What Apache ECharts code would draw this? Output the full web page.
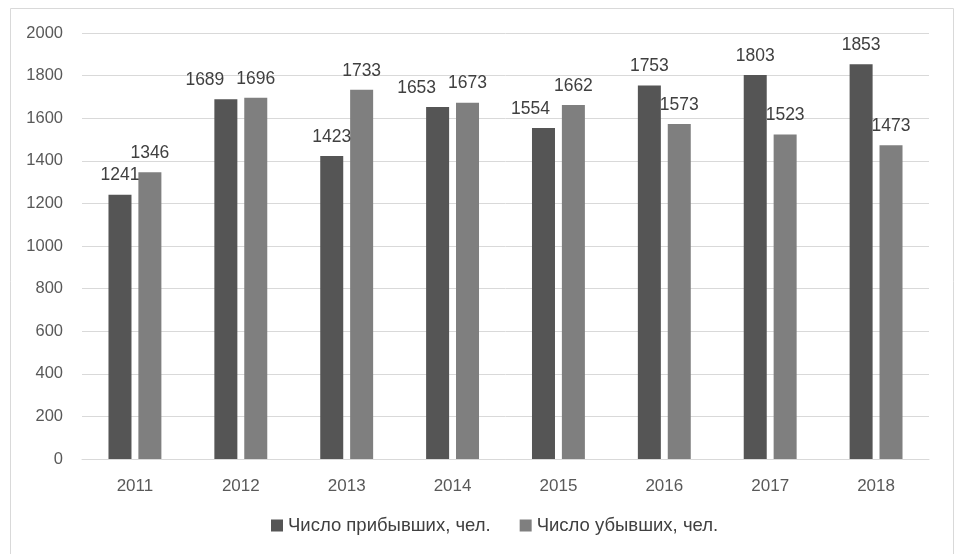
<!DOCTYPE html>
<html><head><meta charset="utf-8">
<script src="https://cdn.jsdelivr.net/npm/echarts@6/dist/echarts.min.js"></script>
<style>html,body{margin:0;padding:0;background:#fff}#c{width:963px;height:554px}</style>
</head><body><div id="c"></div>
<script>
const categories = ['2011','2012','2013','2014','2015','2016','2017','2018'];
const arrived = [1241,1689,1423,1653,1554,1753,1803,1853];
const departed = [1346,1696,1733,1673,1662,1573,1523,1473];
const seriesNames = ['Число прибывших, чел.','Число убывших, чел.'];
const yTicks = {min:0,max:2000,interval:200};

// horizontal label nudges (as in the reference, to avoid overlaps)
const arrivedLabelShift = [0,-21,0,-21,-13,0,0,0];

const font = '"Liberation Sans", Arial, sans-serif';
const chart = echarts.init(document.getElementById('c'));
const lbl = {show:true, position:'top', distance:10, color:'#404040', fontSize:17.5, fontFamily:font};
chart.setOption({
  animation:false,
  graphic:[{type:'rect', shape:{x:10.5,y:8.5,width:943,height:600}, style:{fill:'none',stroke:'#d9d9d9',lineWidth:1}}],
  grid:{left:82,right:34,top:33,bottom:95},
  legend:{bottom:14,left:266,itemWidth:12,itemHeight:12,itemGap:29,icon:'rect',
    textStyle:{color:'#404040',fontSize:18.5,fontFamily:font},data:seriesNames},
  xAxis:{type:'category',data:categories,
    axisLine:{lineStyle:{color:'#d9d9d9'}},axisTick:{show:false},
    axisLabel:{color:'#595959',fontSize:17,fontFamily:font,margin:19}},
  yAxis:{type:'value',min:yTicks.min,max:yTicks.max,interval:yTicks.interval,
    axisLine:{show:false},axisTick:{show:false},
    splitLine:{lineStyle:{color:'#d9d9d9'}},
    axisLabel:{color:'#595959',fontSize:16.5,fontFamily:font,margin:19,formatter:v=>String(v)}},
  series:[
    {name:seriesNames[0],type:'bar',
     data:arrived.map((v,i)=>({value:v,label:{offset:[arrivedLabelShift[i],0]}})),
     barWidth:23,barGap:'30%',
     itemStyle:{color:'#555555'},label:lbl},
    {name:seriesNames[1],type:'bar',data:departed,barWidth:23,
     itemStyle:{color:'#7f7f7f'},label:lbl}
  ]
});
</script></body></html>
